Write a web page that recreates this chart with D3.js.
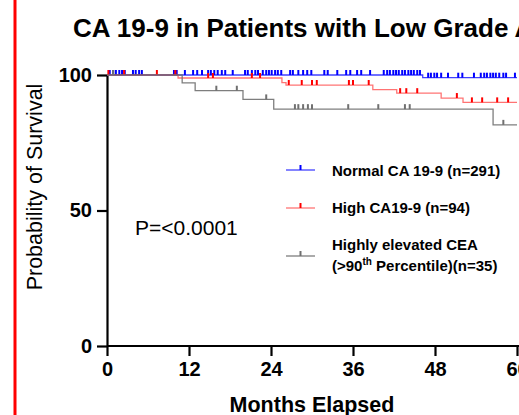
<!DOCTYPE html>
<html>
<head>
<meta charset="utf-8">
<script src="https://cdn.jsdelivr.net/npm/d3@7"></script>
<style>
  body { margin: 0; background: #fff; }
  svg { display: block; font-family: "Liberation Sans", Arial, sans-serif; }
</style>
</head>
<body>
<div id="chart"></div>
<script>
// data (months, % survival)
var xTicks = [0, 12, 24, 36, 48, 60];
var yTicks = [0, 50, 100];

var normalStepMonths = [0, 46.2];
var normalStepSurv   = [100, 99.0];
var normalCensor = [0.4, 0.9, 1.3, 1.8, 2.2, 2.6, 3.8, 4.2, 4.7, 5.1, 9.8, 10.2, 11.4, 12.6, 13.2, 13.9,
  14.8, 15.2, 15.7, 16.2, 16.8, 17.3, 18.4, 20.2, 20.6, 21.2, 21.7, 22.1, 22.8, 23.3, 23.7, 24.1,
  24.6, 25.0, 25.5, 26.8, 27.2, 28.0, 28.7, 29.3, 29.9, 31.8, 32.3, 33.7, 35.0, 35.6, 36.6, 37.2,
  38.5, 40.5, 41.0, 41.4, 41.9, 42.3, 42.7, 43.2, 43.6, 44.1, 44.5, 44.9, 45.4, 45.8, 47.0, 47.4,
  47.9, 48.3, 48.9, 49.9, 51.4, 52.0, 53.7, 54.7, 55.2, 55.6, 56.1, 56.5, 56.9, 57.4, 58.0, 58.4, 59.7];

var highStepMonths = [0, 10.4, 25.6, 26.2, 38.9, 42.4, 48.9, 52.1];
var highStepSurv   = [100, 98.9, 97.2, 96.3, 94.6, 93.3, 91.5, 89.9];
var highCensor = [0.2, 2.5, 7.3, 10.0, 14.8, 15.5, 21.2, 22.4, 26.6, 28.5, 30.0, 30.7, 35.4, 36.0,
  38.3, 42.9, 43.8, 45.4, 51.2, 53.4, 54.9, 57.1, 58.7];

var ceaStepMonths = [0, 11.0, 12.9, 19.9, 24.4, 56.5];
var ceaStepSurv   = [100, 97.1, 94.2, 91.0, 87.4, 81.6];
var ceaCensor = [0.9, 16.0, 19.0, 23.3, 27.5, 28.0, 28.7, 29.4, 30.0, 35.3, 39.7, 43.6, 44.3, 58.0];

var lastMonth = 60;

var width = 519, height = 415;

var svg = d3.select("#chart").append("svg")
  .attr("width", width)
  .attr("height", height);

// red bar on the left edge
svg.append("line")
  .attr("x1", 15).attr("x2", 15)
  .attr("y1", 0).attr("y2", height)
  .attr("stroke", "#ff0000")
  .attr("stroke-width", 3);

var x = d3.scaleLinear().domain([0, 60]).range([107, 517]);
var y = d3.scaleLinear().domain([0, 100]).range([346, 75]);

// title (cut at the right edge, like the original)
svg.append("text")
  .attr("x", 73).attr("y", 36.5)
  .style("font-size", "26px")
  .style("font-weight", "bold")
  .text("CA 19-9 in Patients with Low Grade A");

// axes
var xAxis = svg.append("g")
  .attr("transform", "translate(0," + y(0) + ")")
  .call(d3.axisBottom(x).tickValues(xTicks).tickSize(10).tickSizeOuter(0).tickPadding(6));

var yAxis = svg.append("g")
  .attr("transform", "translate(" + x(0) + ",0)")
  .call(d3.axisLeft(y).tickValues(yTicks).tickSize(10).tickSizeOuter(0).tickPadding(5));

[xAxis, yAxis].forEach(function(g) {
  g.select(".domain").attr("stroke", "#000").attr("stroke-width", 2.2);
  g.selectAll(".tick line").attr("stroke", "#000").attr("stroke-width", 2.2);
  g.selectAll(".tick text")
    .attr("fill", "#000")
    .style("font-size", "20px")
    .style("font-weight", "bold")
    .style("font-family", "'Liberation Sans', Arial, sans-serif");
});
// stretch x axis line to the right edge
xAxis.select(".domain").attr("d", "M" + x(0) + ",0H" + width);

svg.append("text")
  .attr("x", 312).attr("y", 412)
  .attr("text-anchor", "middle")
  .style("font-size", "21.5px")
  .style("font-weight", "bold")
  .text("Months Elapsed");

svg.append("text")
  .attr("transform", "translate(42,187) rotate(-90)")
  .attr("text-anchor", "middle")
  .style("font-size", "21.5px")
  .text("Probability of Survival");

// survival curves
function stepData(months, surv) {
  var pts = months.map(function(m, i) { return [m, surv[i]]; });
  pts.push([lastMonth, surv[surv.length - 1]]);
  return pts;
}
function survAt(months, surv, t) {
  var v = surv[0];
  for (var i = 0; i < months.length; i++) { if (months[i] <= t) v = surv[i]; }
  return v;
}

var line = d3.line()
  .x(function(d) { return x(d[0]); })
  .y(function(d) { return y(d[1]); })
  .curve(d3.curveStepAfter);

var series = [
  { months: normalStepMonths, surv: normalStepSurv, censor: normalCensor, color: "#0000ff", opacity: 0.75 },
  { months: highStepMonths, surv: highStepSurv, censor: highCensor, color: "#ff0000", opacity: 0.55 },
  { months: ceaStepMonths, surv: ceaStepSurv, censor: ceaCensor, color: "#707070", opacity: 0.9 }
];

series.forEach(function(s) {
  svg.append("path")
    .datum(stepData(s.months, s.surv))
    .attr("fill", "none")
    .attr("stroke", s.color)
    .attr("stroke-opacity", s.opacity)
    .attr("stroke-width", 1.3)
    .attr("d", line);

  svg.selectAll(null)
    .data(s.censor)
    .enter().append("line")
    .attr("x1", function(d) { return x(d); })
    .attr("x2", function(d) { return x(d); })
    .attr("y1", function(d) { return y(survAt(s.months, s.surv, d)); })
    .attr("y2", function(d) { return y(survAt(s.months, s.surv, d)) - 5; })
    .attr("stroke", s.color)
    .attr("stroke-width", 2);
});

// P value
svg.append("text")
  .attr("x", 135).attr("y", 235)
  .style("font-size", "21px")
  .text("P=<0.0001");

// legend
var legend = [
  { y: 170, color: "#0000ff", opacity: 0.75, lines: ["Normal CA 19-9 (n=291)"], ty: 175.5 },
  { y: 208, color: "#ff0000", opacity: 0.55, lines: ["High CA19-9 (n=94)"], ty: 213.3 },
  { y: 256, color: "#707070", opacity: 0.9, lines: null, ty: 250 }
];
legend.forEach(function(l) {
  svg.append("line")
    .attr("x1", 286).attr("x2", 315)
    .attr("y1", l.y).attr("y2", l.y)
    .attr("stroke", l.color)
    .attr("stroke-opacity", l.opacity)
    .attr("stroke-width", 1.3);
  svg.append("line")
    .attr("x1", 300.5).attr("x2", 300.5)
    .attr("y1", l.y).attr("y2", l.y - 5)
    .attr("stroke", l.color)
    .attr("stroke-width", 2);
  if (l.lines) {
    svg.append("text")
      .attr("x", 332).attr("y", l.ty)
      .style("font-size", "15px")
      .style("font-weight", "bold")
      .text(l.lines[0]);
  }
});

svg.append("text")
  .attr("x", 332).attr("y", 250)
  .style("font-size", "15px")
  .style("font-weight", "bold")
  .text("Highly elevated CEA");

var t2 = svg.append("text")
  .attr("x", 332).attr("y", 270.5)
  .style("font-size", "15px")
  .style("font-weight", "bold");
t2.append("tspan").text("(>90");
t2.append("tspan").attr("dy", -6).style("font-size", "10px").text("th");
t2.append("tspan").attr("dy", 6).text(" Percentile)(n=35)");
</script>
</body>
</html>
